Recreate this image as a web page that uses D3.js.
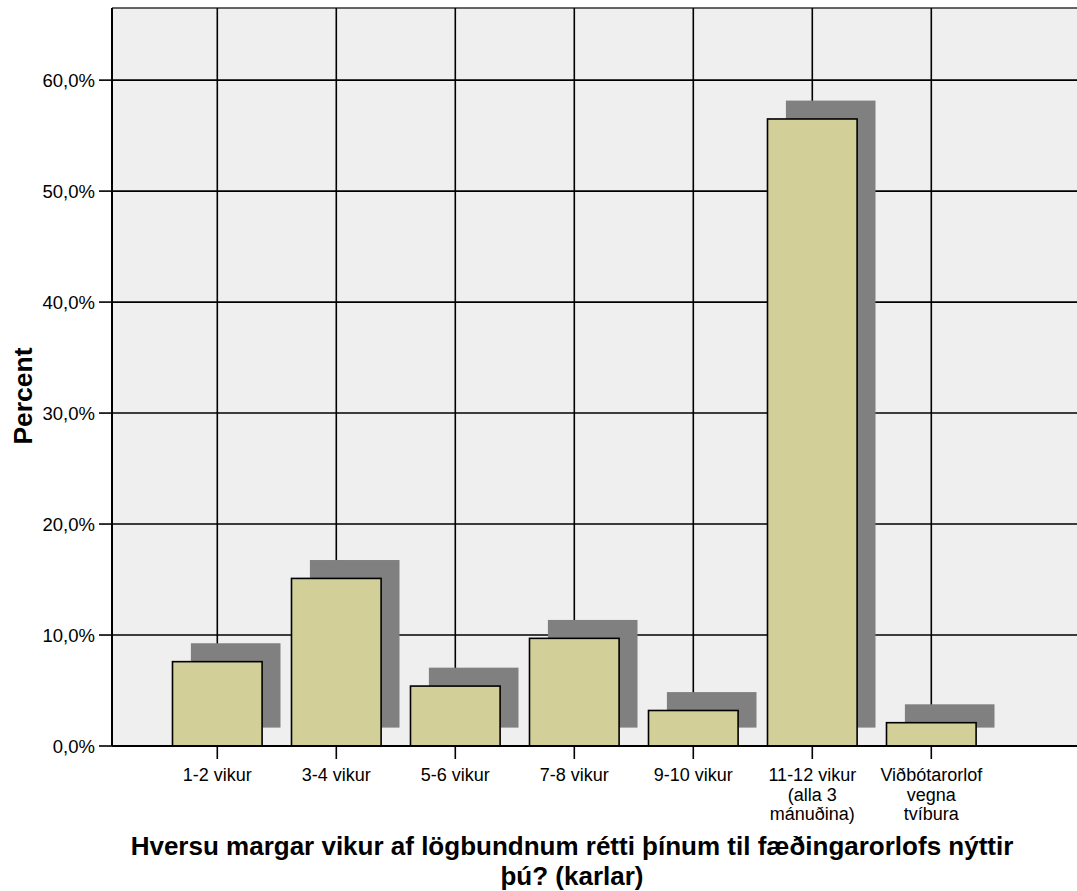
<!DOCTYPE html>
<html>
<head>
<meta charset="utf-8">
<script src="https://cdn.jsdelivr.net/npm/d3@7"></script>
<style>
  html, body { margin: 0; padding: 0; background: #fff; }
  svg { display: block; font-family: "Liberation Sans", Arial, sans-serif; }
</style>
</head>
<body>
<svg id="chart" width="1077" height="891"></svg>
<script>
// ---- data ----
const categories = [
  "1-2 vikur",
  "3-4 vikur",
  "5-6 vikur",
  "7-8 vikur",
  "9-10 vikur",
  "11-12 vikur (alla 3 mánuðina)",
  "Viðbótarorlof vegna tvíbura"
];
const categoryLines = [
  ["1-2 vikur"],
  ["3-4 vikur"],
  ["5-6 vikur"],
  ["7-8 vikur"],
  ["9-10 vikur"],
  ["11-12 vikur", "(alla 3", "mánuðina)"],
  ["Viðbótarorlof", "vegna", "tvíbura"]
];
const percentValues = [0.076, 0.151, 0.054, 0.097, 0.032, 0.565, 0.021];
const yTickValues = [0, 0.1, 0.2, 0.3, 0.4, 0.5, 0.6];
const yAxisTitle = "Percent";
const xAxisTitleLines = [
  "Hversu margar vikur af lögbundnum rétti þínum til fæðingarorlofs nýttir",
  "þú? (karlar)"
];

// ---- layout ----
const svg = d3.select("#chart");
const W = 1077, H = 891;
const plot = { left: 112, top: 8, right: 1077, bottom: 746 };
const step = 119;
const firstCenter = 217.3;

const x = d3.scaleBand()
  .domain(categories)
  .range([firstCenter - step / 2, firstCenter - step / 2 + step * categories.length])
  .paddingInner(0).paddingOuter(0);
const y = d3.scaleLinear().domain([0, 0.665]).range([plot.bottom, plot.top]);

const barW = x.bandwidth() * 0.753;
const shadowOff = 18.4;

const locale = d3.formatLocale({ decimal: ",", thousands: ".", grouping: [3], currency: ["", "€"] });
const fmt = locale.format(".1%");

// plot background
svg.append("rect")
  .attr("x", plot.left).attr("y", plot.top)
  .attr("width", plot.right - plot.left + 5).attr("height", plot.bottom - plot.top)
  .attr("fill", "#efefef");

// top border
svg.append("line")
  .attr("x1", plot.left).attr("x2", W)
  .attr("y1", plot.top).attr("y2", plot.top)
  .attr("stroke", "#333").attr("stroke-width", 1.5);

// horizontal gridlines
svg.append("g").selectAll("line").data(yTickValues.filter(d => d > 0)).join("line")
  .attr("x1", plot.left).attr("x2", W)
  .attr("y1", d => y(d)).attr("y2", d => y(d))
  .attr("stroke", "#000").attr("stroke-width", 1.6);

// vertical gridlines
svg.append("g").selectAll("line").data(categories).join("line")
  .attr("x1", d => x(d) + x.bandwidth() / 2).attr("x2", d => x(d) + x.bandwidth() / 2)
  .attr("y1", plot.top).attr("y2", plot.bottom)
  .attr("stroke", "#000").attr("stroke-width", 1.6);

// shadows
svg.append("g").selectAll("rect").data(categories).join("rect")
  .attr("x", d => x(d) + x.bandwidth() / 2 - barW / 2 + shadowOff)
  .attr("y", (d, i) => y(percentValues[i]) - shadowOff)
  .attr("width", barW)
  .attr("height", (d, i) => y(0) - y(percentValues[i]))
  .attr("fill", "#808080");

// bars
svg.append("g").selectAll("rect").data(categories).join("rect")
  .attr("x", d => x(d) + x.bandwidth() / 2 - barW / 2)
  .attr("y", (d, i) => y(percentValues[i]))
  .attr("width", barW)
  .attr("height", (d, i) => y(0) - y(percentValues[i]))
  .attr("fill", "#d3cf98")
  .attr("stroke", "#000").attr("stroke-width", 1.6);

// x axis line
svg.append("line")
  .attr("x1", plot.left).attr("x2", W)
  .attr("y1", plot.bottom).attr("y2", plot.bottom)
  .attr("stroke", "#000").attr("stroke-width", 2);

// y axis line
svg.append("line")
  .attr("x1", plot.left).attr("x2", plot.left)
  .attr("y1", plot.top).attr("y2", plot.bottom)
  .attr("stroke", "#000").attr("stroke-width", 2);

// y ticks + labels
const yt = svg.append("g").selectAll("g").data(yTickValues).join("g")
  .attr("transform", d => `translate(0,${y(d)})`);
yt.append("line").attr("x1", plot.left - 13).attr("x2", plot.left)
  .attr("stroke", "#000").attr("stroke-width", 1.6);
yt.append("text")
  .attr("x", plot.left - 17).attr("y", 6.5)
  .attr("text-anchor", "end")
  .attr("font-size", 18.5).attr("fill", "#000")
  .text(d => fmt(d));

// x ticks + labels
const xt = svg.append("g").selectAll("g").data(categories).join("g")
  .attr("transform", d => `translate(${x(d) + x.bandwidth() / 2},0)`);
xt.append("line").attr("y1", plot.bottom).attr("y2", plot.bottom + 13)
  .attr("stroke", "#000").attr("stroke-width", 1.6);
xt.each(function (d, i) {
  const t = d3.select(this).append("text")
    .attr("text-anchor", "middle").attr("font-size", 18).attr("fill", "#000");
  categoryLines[i].forEach((ln, k) => {
    t.append("tspan").attr("x", 0).attr("y", 781 + k * 19.5).text(ln);
  });
});

// y axis title
svg.append("text")
  .attr("transform", "translate(32,396) rotate(-90)")
  .attr("text-anchor", "middle")
  .attr("font-size", 26.5).attr("font-weight", "bold").attr("fill", "#000")
  .text(yAxisTitle);

// x axis title (two separate lines)
svg.append("g").selectAll("text").data(xAxisTitleLines).join("text")
  .attr("x", 572).attr("y", (d, k) => 855 + k * 30)
  .attr("text-anchor", "middle")
  .attr("font-size", 26).attr("font-weight", "bold").attr("fill", "#000")
  .text(d => d);
</script>
</body>
</html>
